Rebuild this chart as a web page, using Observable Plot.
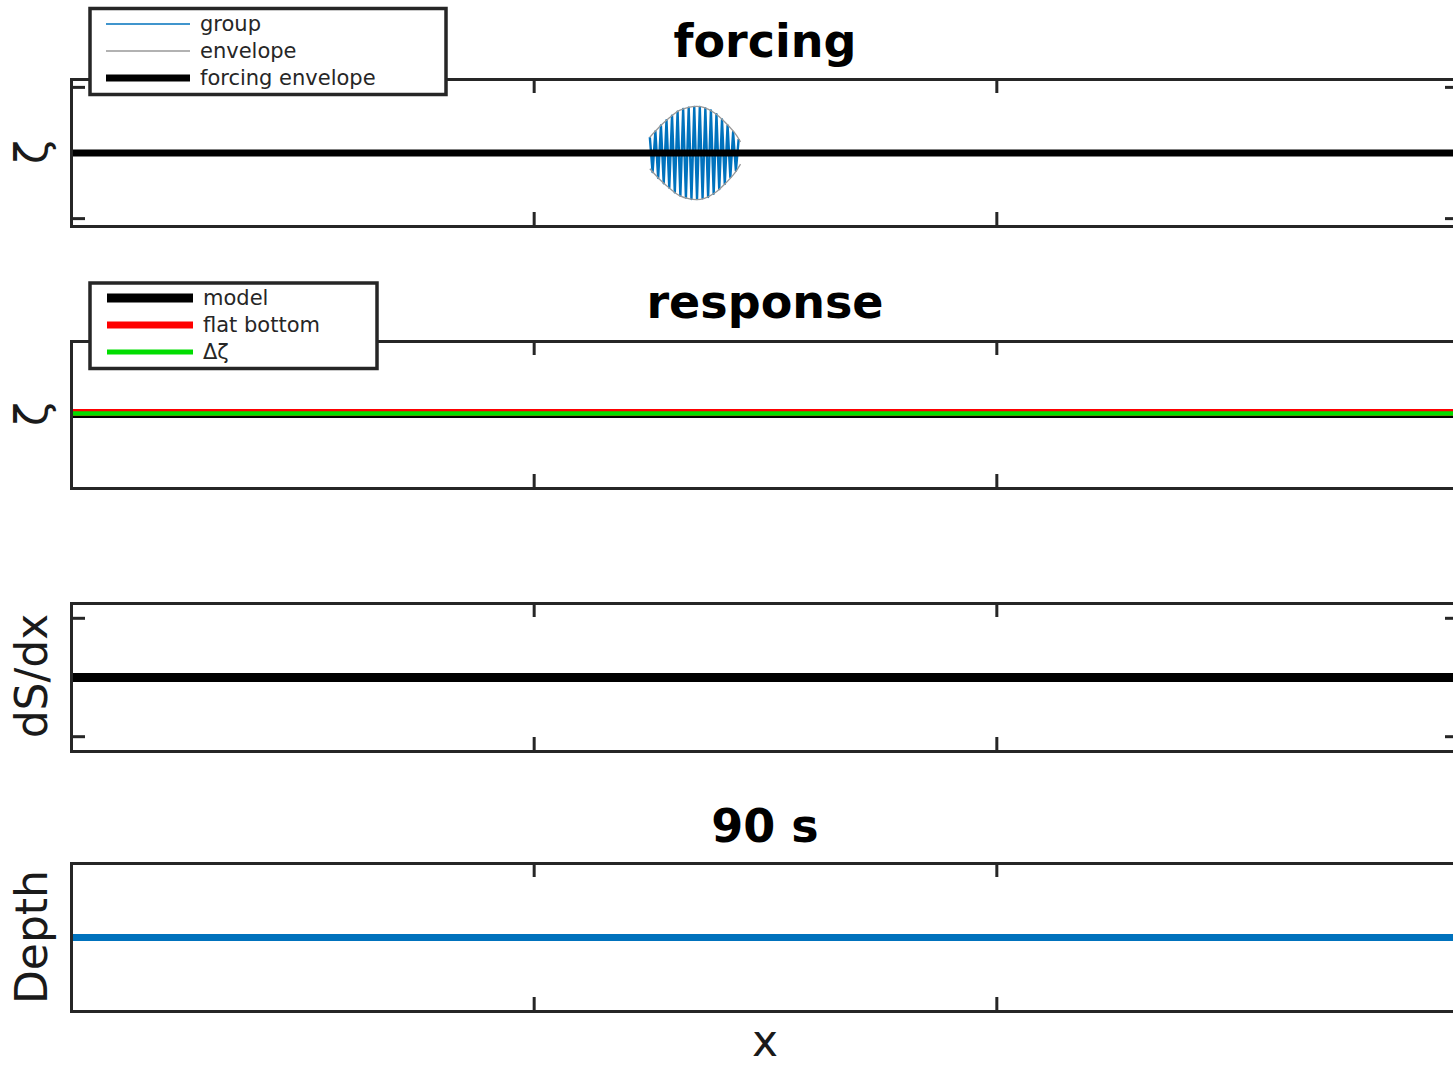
<!DOCTYPE html>
<html><head><meta charset="utf-8">
<script src="https://cdn.jsdelivr.net/npm/d3@7"></script>
<script src="https://cdn.jsdelivr.net/npm/@observablehq/plot@0.6"></script>
<style>
html,body{margin:0;padding:0;background:#fff;overflow:hidden;}
#root{position:relative;width:1453px;height:1067px;overflow:hidden;background:#fff;font-family:"DejaVu Sans",sans-serif;}
#overlay{position:absolute;left:0;top:0;}
</style></head><body><div id="root"></div>
<script>
// ---- data ----
const xDomain = [0, 3000];
const xTicks = [0, 1000, 2000, 3000];

// forcing panel
const groupX = [1250,1256,1262,1268,1274,1280,1286,1292,1298,1304,1310,1316,1322,1328,1334,1340,1346,1352,1358,1364,1370,1376,1382,1388,1394,1400,1406,1412,1418,1424,1430,1436,1442];
const groupY = [0.24,-0.29,0.33,-0.38,0.42,-0.46,0.50,-0.53,0.57,-0.60,0.63,-0.65,0.67,-0.68,0.69,-0.70,0.70,-0.70,0.70,-0.69,0.68,-0.67,0.65,-0.62,0.59,-0.55,0.51,-0.47,0.42,-0.37,0.32,-0.27,0.21];
const envX = [1250,1271,1293,1314,1336,1351,1368,1390,1411,1433,1446];
const envAmp = [0.24,0.40,0.54,0.65,0.70,0.71,0.69,0.61,0.48,0.31,0.17];
const forcingX = [0, 3000];
const forcingY = [0, 0];
const forcingYTicks = [-1, 1];

// response panel
const respX = [0, 3000];
const modelY = [0.02, 0.02];
const flatY = [0.035, 0.035];
const deltaY = [0.02, 0.02];

// dS/dx panel
const dsdxX = [0, 3000];
const dsdxY = [0, 0];
const dsdxYTicks = [-1, 1];

// depth panel
const depthX = [0, 3000];
const depthY = [0, 0];

const legend1 = [
  {label: "group", color: "#0072BD", width: 1.3},
  {label: "envelope", color: "#999999", width: 1.3},
  {label: "forcing envelope", color: "#000000", width: 7}
];
const legend2 = [
  {label: "model", color: "#000000", width: 9},
  {label: "flat bottom", color: "#ff0000", width: 7},
  {label: "Δζ", color: "#00dd00", width: 5}
];

// ---- drawing ----
const root = document.getElementById("root");
const W = 1475, mL = 71, mR = 16, mT = 5, mB = 5, TL = 14, FRAME = "#262626";

function panel(top, height, yDomain, yTicks, marks) {
  const innerW = W - mL - mR, innerH = height - mT - mB;
  const tk = {stroke: FRAME, strokeWidth: 3};
  const ticks = [
    Plot.tickX(xTicks, {x: d => d, ...tk, insetBottom: innerH - TL}),
    Plot.tickX(xTicks, {x: d => d, ...tk, insetTop: innerH - TL})
  ];
  if (yTicks.length) {
    ticks.push(Plot.tickY(yTicks, {y: d => d, ...tk, insetRight: innerW - TL}));
    ticks.push(Plot.tickY(yTicks, {y: d => d, ...tk, insetLeft: innerW - TL}));
  }
  const svg = Plot.plot({
    width: W, height,
    marginLeft: mL, marginRight: mR, marginTop: mT, marginBottom: mB,
    x: {domain: xDomain, axis: null},
    y: {domain: yDomain, axis: null},
    marks: [...marks, ...ticks, Plot.frame({stroke: FRAME, strokeWidth: 3})]
  });
  svg.style.position = "absolute";
  svg.style.left = "0px";
  svg.style.top = top + "px";
  svg.style.maxWidth = "none";
  svg.style.overflow = "visible";
  root.appendChild(svg);
}

const lc = {strokeLinecap: "butt"};

panel(74, 157, [-1.12, 1.12], forcingYTicks, [
  Plot.line(groupX, {x: groupX, y: groupY, stroke: "#0072BD", strokeWidth: 2.4, ...lc}),
  Plot.line(envX, {x: envX, y: envAmp, stroke: "#999999", strokeWidth: 1.3, curve: "natural", ...lc}),
  Plot.line(envX, {x: envX, y: envAmp.map(v => -v), stroke: "#999999", strokeWidth: 1.3, curve: "natural", ...lc}),
  Plot.line(forcingX, {x: forcingX, y: forcingY, stroke: "#000", strokeWidth: 7, ...lc})
]);

panel(336, 157, [-1, 1], [], [
  Plot.line(respX, {x: respX, y: modelY, stroke: "#000", strokeWidth: 9, ...lc}),
  Plot.line(respX, {x: respX, y: flatY, stroke: "#ff0000", strokeWidth: 7, ...lc}),
  Plot.line(respX, {x: respX, y: deltaY, stroke: "#00dd00", strokeWidth: 4.5, ...lc})
]);

panel(598, 158, [-1.25, 1.25], dsdxYTicks, [
  Plot.line(dsdxX, {x: dsdxX, y: dsdxY, stroke: "#000", strokeWidth: 9, ...lc})
]);

panel(858, 158, [-1, 1], [], [
  Plot.line(depthX, {x: depthX, y: depthY, stroke: "#0072BD", strokeWidth: 7, ...lc})
]);

// overlay: titles, labels, legends
const ov = d3.select(root).append("svg").attr("id", "overlay")
  .attr("width", 1453).attr("height", 1067)
  .style("font-family", "'DejaVu Sans', sans-serif");

const titles = [
  {t: "forcing", y: 57}, {t: "response", y: 318}, {t: "90 s", y: 842}
];
titles.forEach(d => ov.append("text").attr("x", 765).attr("y", d.y)
  .attr("text-anchor", "middle").attr("font-size", 46).attr("font-weight", "bold")
  .attr("fill", "#000").text(d.t));

ov.append("text").attr("x", 765).attr("y", 1056).attr("text-anchor", "middle")
  .attr("font-size", 44).attr("fill", "#1a1a1a").text("x");

const ylabels = [
  {t: "ζ", y: 152}, {t: "ζ", y: 414}, {t: "dS/dx", y: 676}, {t: "Depth", y: 937}
];
ylabels.forEach(d => ov.append("text")
  .attr("transform", `translate(47,${d.y}) rotate(-90)`)
  .attr("text-anchor", "middle").attr("font-size", 44).attr("fill", "#1a1a1a").text(d.t));

function legend(x, y, w, h, items, rowY, lx1, lx2, tx) {
  const g = ov.append("g");
  g.append("rect").attr("x", x).attr("y", y).attr("width", w).attr("height", h)
    .attr("fill", "#fff").attr("stroke", FRAME).attr("stroke-width", 3.5);
  items.forEach((it, i) => {
    const yy = rowY[i];
    g.append("line").attr("x1", lx1).attr("x2", lx2).attr("y1", yy).attr("y2", yy)
      .attr("stroke", it.color).attr("stroke-width", it.width);
    g.append("text").attr("x", tx).attr("y", yy + 6.5).attr("font-size", 21)
      .attr("fill", "#262626").text(it.label);
  });
}
legend(90, 8.5, 356, 86, legend1, [24, 51, 78], 106, 190, 200);
legend(90, 283, 287, 85.5, legend2, [298, 325, 352], 107, 193, 203);
</script></body></html>
